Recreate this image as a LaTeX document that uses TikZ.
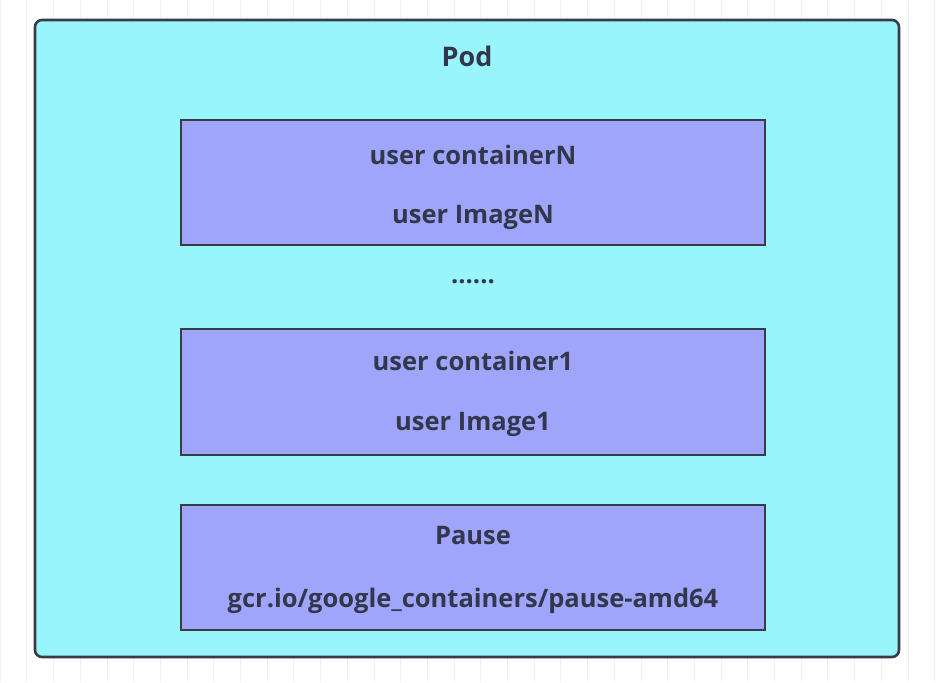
\documentclass[tikz,border=0pt]{standalone}
\usepackage{fontspec}
\setmainfont{Open Sans}
\definecolor{podfill}{RGB}{153,245,252}
\definecolor{boxfill}{RGB}{160,165,252}
\definecolor{edge}{RGB}{55,60,70}
\definecolor{txt}{RGB}{50,55,75}
\definecolor{gridc}{RGB}{240,240,240}
\begin{document}
\begin{tikzpicture}[x=1pt,y=-1pt,
  pod/.style={draw=edge,fill=podfill,line width=2.6pt,rounded corners=7pt},
  cbox/.style={draw=edge,fill=boxfill,line width=2.2pt},
  lbl/.style={text=txt,font=\fontsize{25.5}{30}\selectfont\bfseries,inner sep=0pt,anchor=center}]
\useasboundingbox (0,0) rectangle (944,682);
\fill[white] (0,0) rectangle (944,682);
\draw[gridc,line width=0.6pt,xstep=26.7,ystep=26.7] (0,0) grid (944,682);
\draw[pod] (35,20) rectangle (899,657);
\node[lbl,font=\fontsize{27}{32}\selectfont\bfseries] (podl) at (467,56) {Pod};
\draw[cbox] (181,120) rectangle (765,245);
\node[lbl] (cn) at (473,155) {user containerN};
\node[lbl] (in) at (473,217) {user ImageN};
\node[lbl] (dots) at (473,282) {......};
\draw[cbox] (181,329) rectangle (765,455);
\node[lbl] (c1) at (473,361) {user container1};
\node[lbl] (i1) at (473,424) {user Image1};
\draw[cbox] (181,505) rectangle (765,630);
\node[lbl] (pa) at (473,536) {Pause};
\node[lbl] (gc) at (473,601) {gcr.io/google\_containers/pause-amd64};
\end{tikzpicture}
\end{document}
